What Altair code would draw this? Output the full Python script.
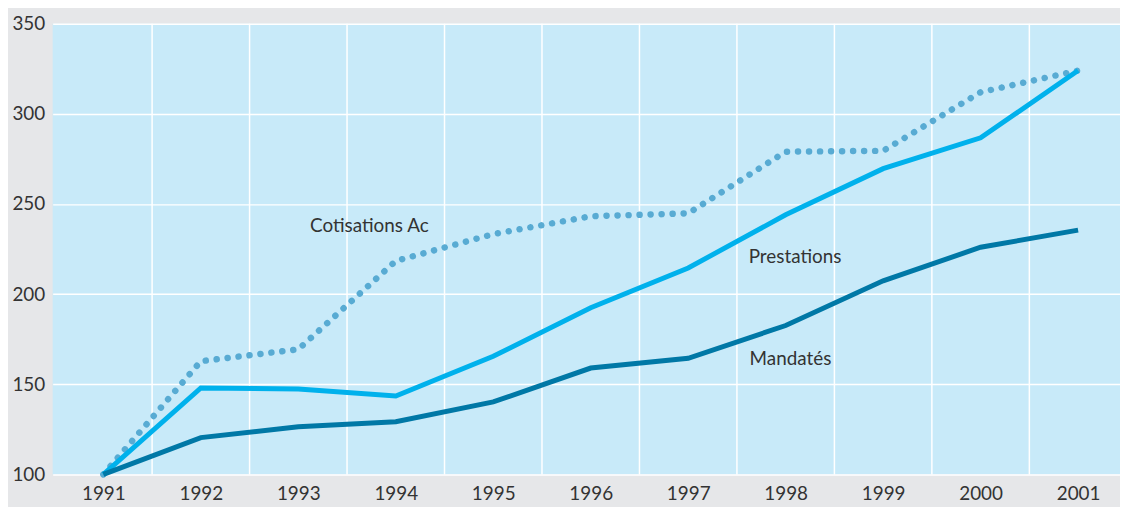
import altair as alt
import pandas as pd

years = [1991, 1992, 1993, 1994, 1995, 1996, 1997, 1998, 1999, 2000, 2001]
prestations = [100, 148, 147.4, 143.5, 165.5, 192.5, 214.5, 244, 269.6, 286.7, 324]
mandates = [100, 120.4, 126.4, 129.2, 140.2, 159, 164.4, 182.6, 207.4, 226, 235.5]
cotisations = [100, 162.8, 169.4, 218.4, 233.3, 243.2, 244.8, 279, 279.5, 312, 324]

grid_years = [1991.5, 1992.5, 1993.5, 1994.5, 1995.5, 1996.5, 1997.5, 1998.5, 1999.5, 2000.5]
label_text = ["Cotisations Ac", "Prestations", "Mandatés"]
label_x = [1993.12, 1997.62, 1997.63]
label_y = [237.7, 220.6, 163.9]

FONT = "Lato"

def frame(vals, name):
    return pd.DataFrame({"year": years, "value": vals, "serie": name})

xscale = alt.Scale(domain=[1990.48, 2001.43], nice=False, zero=False)
yscale = alt.Scale(domain=[100, 350], nice=False, zero=False)

xaxis = alt.Axis(values=years, format="d", grid=False, ticks=False, domain=False,
                 labelFont=FONT, labelFontSize=19, labelColor="#333333", labelPadding=10,
                 title=None, labelFlush=False)
yaxis = alt.Axis(values=[100, 150, 200, 250, 300, 350], grid=True, gridColor="white",
                 gridWidth=1.5, ticks=False, domain=False, labelFont=FONT, labelFontSize=19,
                 labelColor="#333333", labelPadding=8, title=None)

ax_x = alt.X("year:Q", scale=xscale, axis=xaxis)
ax_y = alt.Y("value:Q", scale=yscale, axis=yaxis)

vgrid = alt.Chart(pd.DataFrame({"year": grid_years})).mark_rule(
    color="white", strokeWidth=1.5
).encode(x=ax_x)

cot = alt.Chart(frame(cotisations, "Cotisations Ac")).mark_line(
    color="#58abd3", strokeWidth=6.5, strokeDash=[0.1, 11], strokeCap="round"
).encode(x=ax_x, y=ax_y)

pre = alt.Chart(frame(prestations, "Prestations")).mark_line(
    color="#00b1ec", strokeWidth=5
).encode(x=ax_x, y=ax_y)

man = alt.Chart(frame(mandates, "Mandatés")).mark_line(
    color="#0078a6", strokeWidth=5
).encode(x=ax_x, y=ax_y)

labels = alt.Chart(pd.DataFrame({"year": label_x, "value": label_y, "t": label_text})).mark_text(
    align="left", baseline="middle", font=FONT, fontSize=19, color="#333333"
).encode(x=ax_x, y=ax_y, text="t:N")

chart = alt.layer(vgrid, cot, pre, man, labels).properties(
    width=1075, height=454,
    autosize=alt.AutoSizeParams(type="none"),
    padding={"left": 45, "top": 14, "right": 0, "bottom": 31},
    background="#e6e7e9",
).configure_view(fill="#c8eaf9", stroke=None)

chart.save("out.html", embed_options={"renderer": "svg", "actions": False})
